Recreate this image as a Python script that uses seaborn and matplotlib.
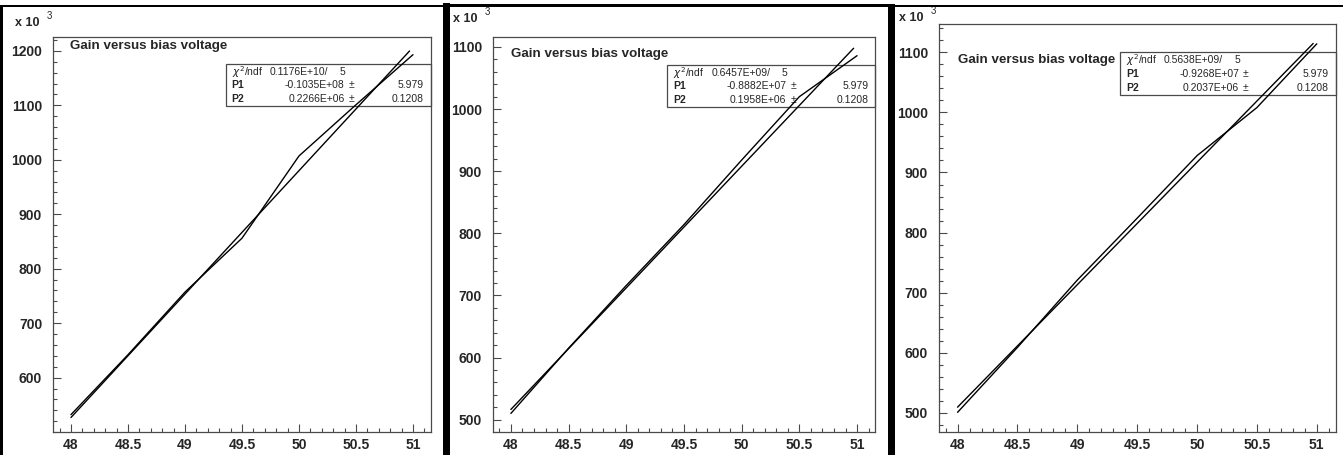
import numpy as np
import matplotlib
matplotlib.use("Agg")
import matplotlib.pyplot as plt
from matplotlib.patches import Rectangle
from matplotlib.ticker import FixedLocator, MultipleLocator
import seaborn as sns

# bias voltage points (V)
voltage = [48.0, 48.5, 49.0, 49.5, 50.0, 50.5, 51.0]

# measured gain (x 10^3), one list per channel
gain_a = [532, 642, 757, 856, 1007, 1101, 1193]
gain_b = [510, 615, 716, 814, 918, 1020, 1086]
gain_c = [501, 609, 721, 824, 928, 1008, 1114]

# fit results shown in the stat boxes (gain = P1 + P2 * V)
p1_vals = [-0.1035e8, -0.8882e7, -0.9268e7]
p2_vals = [0.2266e6, 0.1958e6, 0.2037e6]
chi2_text = ["0.1176E+10/", "0.6457E+09/", "0.5638E+09/"]
p1_text = ["-0.1035E+08", "-0.8882E+07", "-0.9268E+07"]
p2_text = ["0.2266E+06", "0.1958E+06", "0.2037E+06"]
ndf_text = "5"
p1_err = "5.979"
p2_err = "0.1208"
fit_range = [48.0, 50.97]

x_ticks = [48, 48.5, 49, 49.5, 50, 50.5, 51]
x_ticklabels = ["48", "48.5", "49", "49.5", "50", "50.5", "51"]
y_ticks_a = [600, 700, 800, 900, 1000, 1100, 1200]
y_ticks_bc = [500, 600, 700, 800, 900, 1000, 1100]
title = "Gain versus bias voltage"

W, H = 1343, 455

sns.set_style("white")
plt.rcParams["font.family"] = ["Liberation Sans", "DejaVu Sans"]

fig = plt.figure(figsize=(W / 100, H / 100), dpi=100)
fig.patch.set_facecolor("white")


def fx(x):
    return x / W


def fy(y):
    return 1 - y / H


# pixel layout of each pad: frame (l, t, r, b), stat box (l, t, r, b)
pads = [
    dict(gain=gain_a, yt=y_ticks_a, ylim=(499.6, 1226), frame=(53.3, 36.7, 431, 432.3),
         box=(225.7, 64, 431, 106), title=(70, 46), expo=(15, 23)),
    dict(gain=gain_b, yt=y_ticks_bc, ylim=(479.6, 1115.6), frame=(493, 37.3, 875.3, 432.3),
         box=(667.3, 64.7, 875.3, 106.7), title=(511, 54.5), expo=(453, 19)),
    dict(gain=gain_c, yt=y_ticks_bc, ylim=(467.8, 1147), frame=(939, 24, 1335.7, 432.3),
         box=(1120, 52.3, 1335.7, 95.3), title=(958, 60.5), expo=(899, 18)),
]

frame_col = "#4a4a4a"

for i, pad in enumerate(pads):
    l, t, r, b = pad["frame"]
    ax = fig.add_axes([fx(l), fy(b), (r - l) / W, (b - t) / H])
    ax.set_facecolor("white")

    # measured points joined by a polyline, and the straight-line fit
    sns.lineplot(x=voltage, y=pad["gain"], ax=ax, color="black", linewidth=1.0,
                 estimator=None, sort=False, zorder=3)
    fit_x = np.array(fit_range)
    fit_y = (p1_vals[i] + p2_vals[i] * fit_x) / 1e3
    sns.lineplot(x=fit_x, y=fit_y, ax=ax, color="black", linewidth=1.0,
                 estimator=None, sort=False, zorder=3)

    ax.set_xlim(47.845, 51.158)
    ax.set_ylim(*pad["ylim"])
    ax.xaxis.set_major_locator(FixedLocator(x_ticks))
    ax.set_xticklabels(x_ticklabels)
    ax.xaxis.set_minor_locator(MultipleLocator(0.1))
    ax.yaxis.set_major_locator(FixedLocator(pad["yt"]))
    ax.set_yticklabels([str(v) for v in pad["yt"]])
    ax.yaxis.set_minor_locator(MultipleLocator(20))
    ax.tick_params(which="both", direction="in", color=frame_col, width=0.8,
                   bottom=True, left=True, top=False, right=False)
    ax.tick_params(which="major", length=6)
    ax.tick_params(which="minor", length=3)
    ax.tick_params(axis="y", pad=8, labelsize=10)
    ax.tick_params(axis="x", pad=4, labelsize=10)
    for lab in ax.get_xticklabels() + ax.get_yticklabels():
        lab.set_fontweight("bold")
    for sp in ax.spines.values():
        sp.set_color(frame_col)
        sp.set_linewidth(0.9)
    ax.set_xlabel("")
    ax.set_ylabel("")

    # title and axis exponent
    fig.text(fx(pad["title"][0]), fy(pad["title"][1]), title, fontsize=9.6,
             fontweight="bold", ha="left", va="center")
    ex, ey = pad["expo"]
    fig.text(fx(ex), fy(ey), "x 10", fontsize=9, fontweight="bold",
             ha="left", va="center")
    fig.text(fx(ex + 32), fy(ey - 7), "3", fontsize=7, ha="left", va="center")

    # stat box
    bl, bt, br, bb = pad["box"]
    ax.add_patch(Rectangle((fx(bl), fy(bb)), (br - bl) / W, (bb - bt) / H,
                           transform=fig.transFigure, facecolor="white",
                           edgecolor=frame_col, linewidth=0.9, clip_on=False, zorder=1))
    rows = [bt + 8, bt + 21.5, bt + 35.5]
    kw = dict(transform=fig.transFigure, fontsize=7.5, va="center", zorder=2, clip_on=False)
    ax.text(fx(bl + 6), fy(rows[0]), r"$\chi^{2}$/ndf", ha="left", **kw)
    ax.text(fx(bl + 44), fy(rows[0]), chi2_text[i], ha="left", **kw)
    ax.text(fx(bl + 117), fy(rows[0]), ndf_text, ha="center", **kw)
    ax.text(fx(bl + 6), fy(rows[1]), "P1", ha="left", fontweight="bold", **kw)
    ax.text(fx(bl + 119), fy(rows[1]), p1_text[i], ha="right", **kw)
    ax.text(fx(bl + 126), fy(rows[1]), "\u00b1", ha="center", **kw)
    ax.text(fx(br - 7), fy(rows[1]), p1_err, ha="right", **kw)
    ax.text(fx(bl + 6), fy(rows[2]), "P2", ha="left", fontweight="bold", **kw)
    ax.text(fx(bl + 119), fy(rows[2]), p2_text[i], ha="right", **kw)
    ax.text(fx(bl + 126), fy(rows[2]), "\u00b1", ha="center", **kw)
    ax.text(fx(br - 7), fy(rows[2]), p2_err, ha="right", **kw)


def border(x0, y0, x1, y1):
    fig.add_artist(Rectangle((fx(x0), fy(y1)), (x1 - x0) / W, (y1 - y0) / H,
                             transform=fig.transFigure, facecolor="black",
                             edgecolor="none", zorder=5))


# canvas borders of the three screenshots
border(0, 5, 3, H)
border(0, 5, 445, 7)
border(443, 3, 450, H)
border(447, 4, 888, 6.5)
border(888, 4, 895, H)
border(893, 4.5, W, 7)

fig.savefig("out.png", dpi=100, facecolor="white")
